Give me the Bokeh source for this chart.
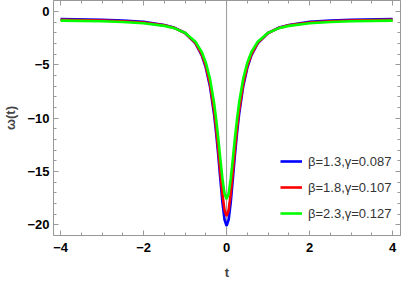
from bokeh.plotting import figure
from bokeh.models import (LinearAxis, SingleIntervalTicker, Span, Legend, LegendItem, Range1d,
                          CustomJSTickFormatter)
from bokeh.embed import file_html
from bokeh.resources import INLINE

t = [-4, -3, -2.5, -2, -1.5, -1.25, -1, -0.75, -0.6, -0.5, -0.4, -0.3, -0.25, -0.2, -0.15, -0.1, -0.05,
     0, 0.05, 0.1, 0.15, 0.2, 0.25, 0.3, 0.4, 0.5, 0.6, 0.75, 1, 1.25, 1.5, 2, 2.5, 3, 4]

w_blue = [-0.70, -0.77, -0.84, -0.97, -1.26, -1.53, -2.02, -2.98, -4.09, -5.26, -7.02, -9.69, -11.45, -13.5, -15.75, -17.9, -19.5,
          -20.1, -19.5, -17.9, -15.75, -13.5, -11.45, -9.69, -7.02, -5.26, -4.09, -2.98, -2.02, -1.53, -1.26, -0.97, -0.84, -0.77, -0.70]
w_red = [-0.77, -0.84, -0.91, -1.04, -1.30, -1.56, -2.02, -2.94, -3.99, -5.10, -6.77, -9.30, -10.98, -12.93, -15.05, -17.09, -18.61,
         -19.18, -18.61, -17.09, -15.05, -12.93, -10.98, -9.30, -6.77, -5.10, -3.99, -2.94, -2.02, -1.56, -1.30, -1.04, -0.91, -0.84, -0.77]
w_green = [-0.86, -0.92, -0.99, -1.10, -1.35, -1.58, -2.00, -2.83, -3.78, -4.80, -6.31, -8.61, -10.13, -11.90, -13.83, -15.68, -17.06,
           -17.58, -17.06, -15.68, -13.83, -11.90, -10.13, -8.61, -6.31, -4.80, -3.78, -2.83, -2.00, -1.58, -1.35, -1.10, -0.99, -0.92, -0.86]

labels = ["β=1.3,γ=0.087", "β=1.8,γ=0.107", "β=2.3,γ=0.127"]
colors = ["#0000FF", "#FF0000", "#00FF00"]

x_ticks = [-4, -2, 0, 2, 4]
x_tick_labels = ["−4", "−2", "0", "2", "4"]
y_ticks = [-20, -15, -10, -5, 0]
y_tick_labels = ["−20", "−15", "−10", "−5", "0"]

p = figure(width=401, height=284, output_backend="svg", toolbar_location=None,
           x_range=Range1d(-4.17, 4.19), y_range=Range1d(-21.0, 1.03),
           min_border_left=43, min_border_right=1, min_border_top=0, min_border_bottom=49)
p.xaxis.visible = False
p.yaxis.visible = False
p.grid.visible = False
p.outline_line_color = None
p.background_fill_color = "white"

axis_color = "#999999"
font = "Liberation Sans"

def style(ax, show_labels, overrides=None, standoff=4):
    ax.axis_line_color = axis_color
    ax.major_tick_line_color = axis_color
    ax.minor_tick_line_color = axis_color
    ax.major_tick_in = 5
    ax.major_tick_out = 0
    ax.minor_tick_in = 3
    ax.minor_tick_out = 0
    if show_labels:
        ax.major_label_text_font = font
        ax.major_label_text_font_style = "bold"
        ax.major_label_text_font_size = "13px"
        ax.major_label_text_color = "black"
        ax.major_label_overrides = overrides
        ax.major_label_standoff = standoff
    else:
        ax.formatter = CustomJSTickFormatter(code="return '';")
        ax.major_label_standoff = 0

xt = SingleIntervalTicker(interval=2, num_minor_ticks=4)
yt = SingleIntervalTicker(interval=5, num_minor_ticks=5)

bx = LinearAxis(ticker=xt, axis_label="t")
style(bx, True, {v: s for v, s in zip(x_ticks, x_tick_labels)}, standoff=7)
bx.axis_label_text_font = font
bx.axis_label_text_font_style = "bold"
bx.axis_label_text_font_size = "13px"
bx.axis_label_standoff = 10
p.add_layout(bx, "below")

ly = LinearAxis(ticker=yt, axis_label="ω(t)")
style(ly, True, {v: s for v, s in zip(y_ticks, y_tick_labels)}, standoff=4)
ly.axis_label_text_font = font
ly.axis_label_text_font_style = "bold"
ly.axis_label_text_font_size = "13px"
ly.axis_label_standoff = 6
p.add_layout(ly, "left")

tx = LinearAxis(ticker=xt)
style(tx, False)
p.add_layout(tx, "above")
ry = LinearAxis(ticker=yt)
style(ry, False)
p.add_layout(ry, "right")

p.add_layout(Span(location=0, dimension="height", line_color="#999999", line_width=1, level="underlay"))

items = []
for ys, c, lab in zip([w_blue, w_red, w_green], colors, labels):
    r = p.line(t, ys, line_color=c, line_width=2.6)
    items.append(LegendItem(label=lab, renderers=[r]))

leg = Legend(items=items, location=(227, 12), border_line_color=None, background_fill_alpha=0,
             label_text_font=font, label_text_font_size="13px", label_text_color="#333333",
             glyph_width=22, glyph_height=20, label_height=20, spacing=6, padding=0, margin=0,
             label_standoff=6)
p.add_layout(leg)

open("out.html", "w").write(file_html(p, INLINE))
